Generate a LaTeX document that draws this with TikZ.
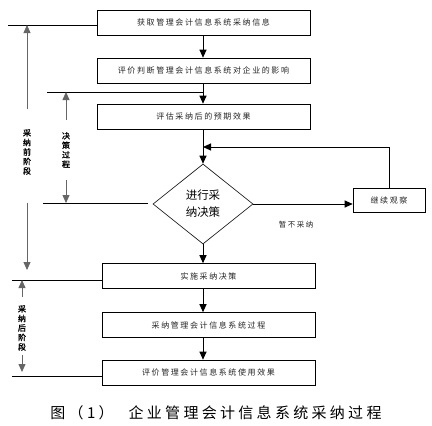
\documentclass[tikz,border=0pt]{standalone}
\usepackage{fontspec}
\setmainfont{Noto Sans CJK SC}
\newfontfamily\boxfont[LetterSpace=20]{Noto Sans CJK SC}
\newfontfamily\capfont[LetterSpace=22]{Noto Sans CJK SC}
\newfontfamily\sidefont[FakeBold=1.5]{Noto Sans CJK SC}
\usetikzlibrary{arrows.meta,shapes.geometric,shadows}
\begin{document}
\begin{tikzpicture}[
x=1pt, y=-1pt,
stage/.style={draw, line width=0.6pt, fill=white, minimum width=213pt, minimum height=25pt, inner sep=0pt,
  text=black!85, font=\boxfont\fontsize{8}{9}\selectfont,
  drop shadow={shadow xshift=0.8pt, shadow yshift=-0.8pt, opacity=1, fill=black}},
choice/.style={diamond, draw, line width=0.6pt, minimum width=100pt, minimum height=80pt, inner sep=0pt,
  align=center, font=\fontsize{11.5}{17}\selectfont},
sidelabel/.style={align=center, inner sep=0pt, font=\sidefont\fontsize{8}{9.5}\selectfont},
note/.style={inner sep=0pt, text=black!85, font=\boxfont\fontsize{7.5}{9}\selectfont},
caption/.style={inner sep=0pt, font=\capfont\fontsize{15}{18}\selectfont},
arrow/.style={-{Triangle[length=8pt,width=7pt]}, line width=1pt},
sidearrow/.style={-{Triangle[length=8pt,width=7pt]}, line width=0.8pt, draw=black!60},
level/.style={line width=1pt}
]
\fill[white] (0,0) rectangle (432,426);
\useasboundingbox (0,0) rectangle (432,426);
% stages of the process
\node[stage] (obtain) at (203.5,22.5) {获取管理会计信息系统采纳信息};
\node[stage] (judge) at (203.5,70.5) {评价判断管理会计信息系统对企业的影响};
\node[stage] (expect) at (203.5,116.5) {评估采纳后的预期效果};
\node[choice] (decide) at (203,204) {进行采\\纳决策};
\node[stage, minimum width=72pt, minimum height=24pt] (observe) at (389,200) {继续观察};
\node[note] (defer) at (296,225) {暂不采纳};
\node[stage] (apply) at (208.5,276) {实施采纳决策};
\node[stage] (adopt) at (208.5,325) {采纳管理会计信息系统过程};
\node[stage] (review) at (208.5,372.5) {评价管理会计信息系统使用效果};
% phase labels
\node[sidelabel] (before) at (27,152) {采\\纳\\前\\阶\\段};
\node[sidelabel] (process) at (66,150) {决\\策\\过\\程};
\node[sidelabel] (after) at (22,328) {采\\纳\\后\\阶\\段};
\node[caption] (title) at (216,413) {图（1）\quad 企业管理会计信息系统采纳过程};
% level lines
\coordinate (lvA) at (8,25);
\coordinate (lvB) at (47,92);
\coordinate (lvC) at (43,203);
\coordinate (lvD) at (12,280);
\coordinate (lvE) at (12,376);
\coordinate (merge) at (203,147);
\draw[level] (lvA) -- (lvA -| obtain.west);
\draw[level] (lvB) -- (lvB -| decide.north);
\draw[level] (lvC) -- ([xshift=-5pt]lvC -| decide.west);
\draw[level] (lvD) -- (lvD -| apply.west);
\draw[level] (lvE) -- (lvE -| review.west);
% main flow
\draw[arrow] (obtain.south -| decide) -- (judge.north -| decide);
\draw[arrow] (judge.south -| decide) -- (expect.north -| decide);
\draw[arrow] (expect.south -| decide) -- (decide.north);
\draw[arrow] (decide.east) -- (decide.east -| observe.west);
\draw[arrow] (observe.north) |- (merge);
\draw[arrow] (decide.south) -- (apply.north -| decide);
\draw[arrow] (apply.south -| decide) -- (adopt.north -| decide);
\draw[arrow] (adopt.south -| decide) -- (review.north -| decide);
% phase arrows
\draw[sidearrow] ([yshift=20pt]before.north) -- (before.north |- lvA);
\draw[sidearrow] ([yshift=-28pt]before.south) -- ([yshift=10pt]before.south |- lvD);
\draw[sidearrow] ([yshift=12pt]process.north) -- (process.north |- lvB);
\draw[sidearrow] ([yshift=-12pt]process.south) -- (process.south |- lvC);
\draw[sidearrow] ([yshift=8pt]after.north) -- (after.north |- lvD);
\draw[sidearrow] ([yshift=-4pt]after.south) -- ([yshift=4pt]after.south |- lvE);
\end{tikzpicture}
\end{document}
